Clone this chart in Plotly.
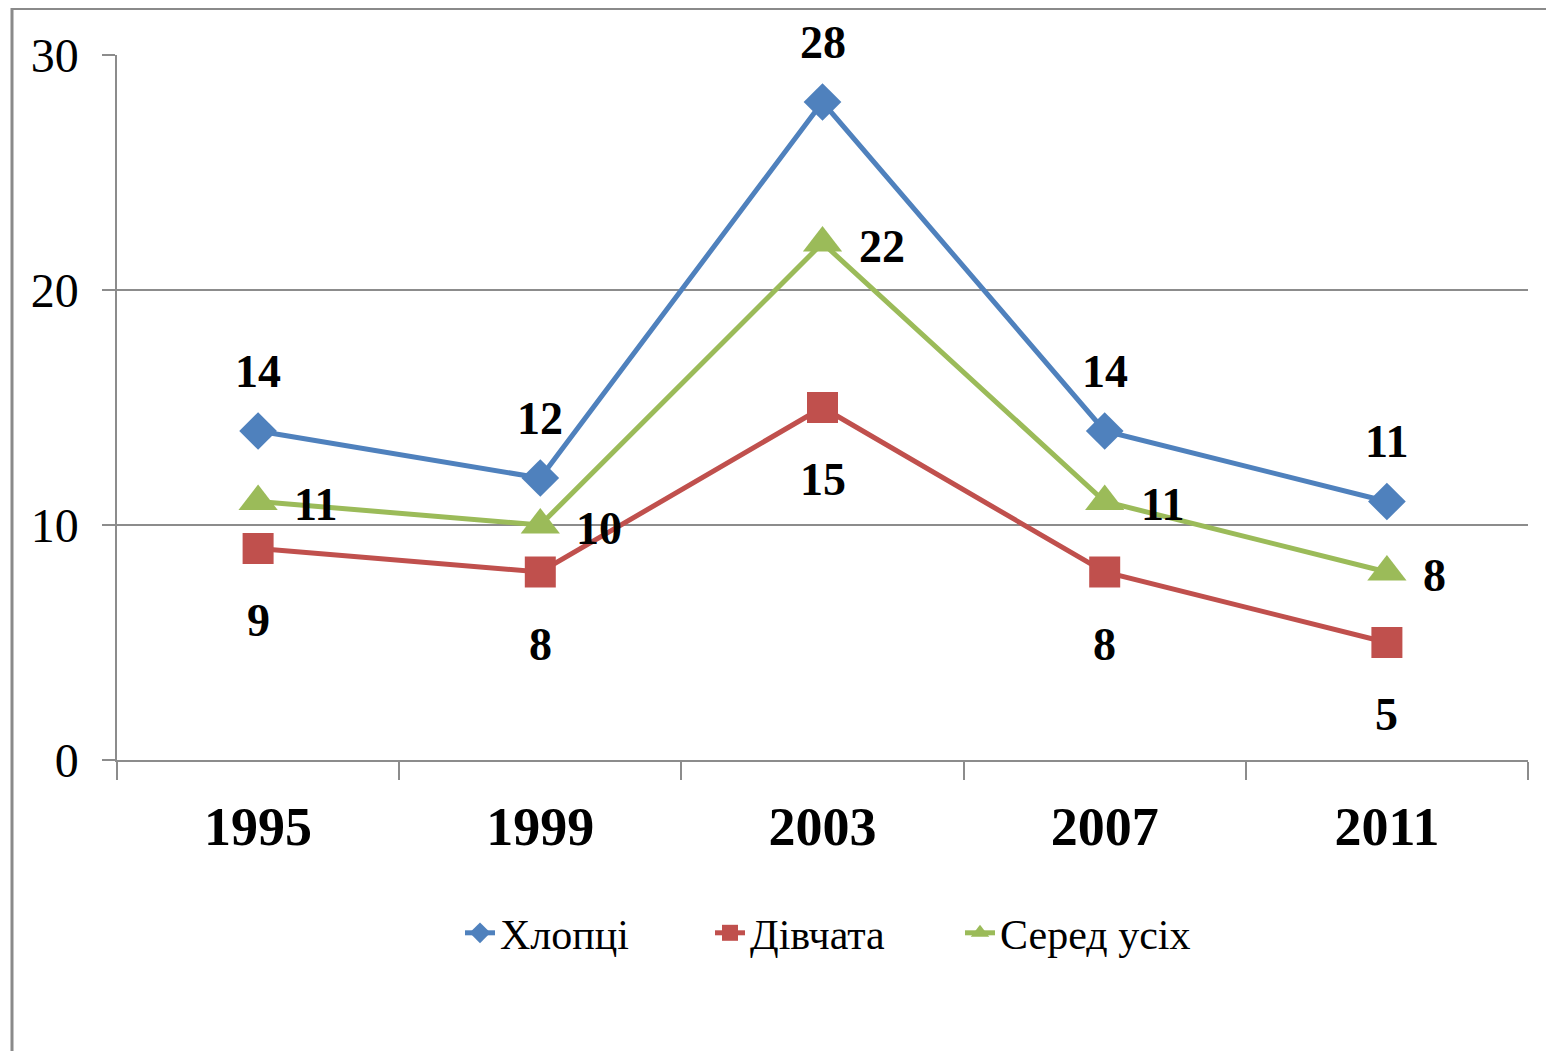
import plotly.graph_objects as go

years = ["1995", "1999", "2003", "2007", "2011"]
boys = [14, 12, 28, 14, 11]
girls = [9, 8, 15, 8, 5]
overall = [11, 10, 22, 11, 8]
names = ["Хлопці", "Дівчата", "Серед усіх"]
colors = ["#4F81BD", "#C0504D", "#9BBB59"]
y_ticks = [0, 10, 20, 30]

# page has an 8px body margin; figure coordinates are page coordinates - 8
W, H = 1546, 1043
L, T = 109, 47
R = W - 1520
B = H - 752
pw, ph = W - L - R, H - T - B

serif = "Liberation Serif, Times New Roman, serif"

fig = go.Figure()
series = [(boys, "diamond", 29), (girls, "square", 31), (overall, "triangle-up", 34)]
for (vals, sym, sz), name, col in zip(series, names, colors):
    fig.add_trace(go.Scatter(
        x=years, y=vals, name=name, mode="lines+markers",
        line=dict(color=col, width=5),
        marker=dict(symbol=sym, size=sz, color=col),
    ))

ann = []
lab_font = dict(family=serif, size=46, color="black")
for i, v in enumerate(boys):
    ann.append(dict(x=i, y=v, xref="x", yref="y", text=f"<b>{v}</b>", showarrow=False,
                    yshift=60, font=lab_font, xanchor="center", yanchor="middle"))
for i, v in enumerate(girls):
    ann.append(dict(x=i, y=v, xref="x", yref="y", text=f"<b>{v}</b>", showarrow=False,
                    yshift=-72, font=lab_font, xanchor="center", yanchor="middle"))
for i, v in enumerate(overall):
    ann.append(dict(x=i, y=v, xref="x", yref="y", text=f"<b>{v}</b>", showarrow=False,
                    xshift=34, yshift=-3, font=lab_font, xanchor="left", yanchor="middle"))

grid_col = "#8c8c8c"
fig.update_layout(
    width=W, height=H,
    margin=dict(l=L, r=R, t=T, b=B),
    paper_bgcolor="white", plot_bgcolor="white",
    showlegend=True,
    legend=dict(orientation="h", x=(827 - L) / pw, y=(752 - 925) / ph,
                xanchor="center", yanchor="middle",
                font=dict(family=serif, size=42, color="black"),
                entrywidth=205, entrywidthmode="pixels", traceorder="normal"),
    annotations=ann,
    shapes=[dict(type="rect", xref="paper", yref="paper",
                 x0=(4 - L) / pw, x1=1.2, y0=-1.0, y1=1 + (T - 0.5) / ph,
                 line=dict(color="#8a8a8a", width=3), fillcolor="rgba(0,0,0,0)",
                 layer="below")],
)
fig.update_xaxes(
    type="category", range=[-0.5, 4.5], tickson="boundaries",
    ticks="outside", ticklen=18, tickcolor=grid_col, tickwidth=1.5,
    showline=True, linecolor=grid_col, linewidth=1.5,
    showgrid=False, zeroline=False,
    tickfont=dict(family=serif, size=54, color="black"),
    tickprefix="<b>", ticksuffix="</b>",
    ticklabelstandoff=18,
)
fig.update_yaxes(
    range=[0, 30], tickvals=y_ticks, ticks="outside", ticklen=13,
    tickcolor=grid_col, tickwidth=1.5,
    showline=True, linecolor=grid_col, linewidth=1.5,
    showgrid=True, gridcolor=grid_col, gridwidth=1.5, zeroline=False,
    tickfont=dict(family=serif, size=48, color="black"),
    ticklabelstandoff=14,
)
fig.write_html("out.html")
